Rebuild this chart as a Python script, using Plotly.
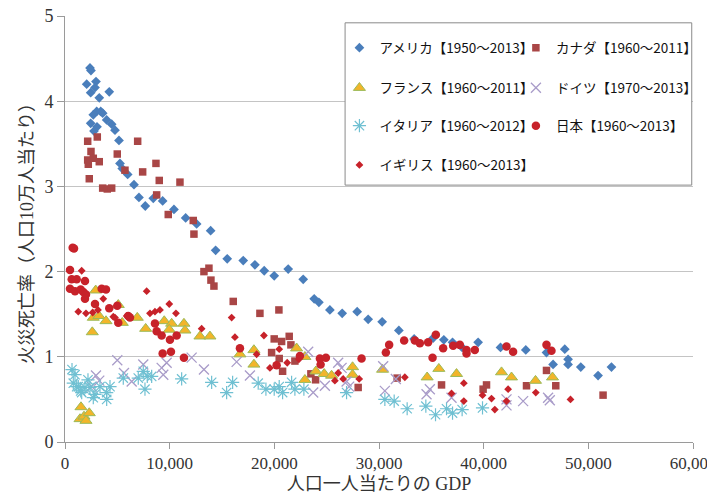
import plotly.graph_objects as go

# ---------------- data (GDP per capita, fire deaths per 100k) ----------------
us_x = [2388, 2480, 2072, 2960, 2454, 2865, 4230, 3275, 3027, 3410, 2703, 3600, 3982, 4460, 2454,
        4775, 2770, 3056, 5157, 5253, 5472, 5988, 6590, 7067, 7669, 8433, 9330, 10410, 11527, 12577,
        13914, 14392, 15500, 17028, 18145, 19033, 19988, 21325, 22758, 23808, 24257, 25308, 26482,
        27915, 28965, 30302, 31897, 33358, 35173, 36195, 37025, 37942, 39470, 41609, 44025, 46002,
        47750, 46633, 48065, 48065, 49278, 50930, 52210]
us_y = [4.39, 4.36, 4.20, 4.23, 4.10, 4.16, 4.11, 4.04, 3.88, 3.88, 3.84, 3.86, 3.78, 3.73, 3.74,
        3.66, 3.65, 3.70, 3.54, 3.27, 3.21, 3.14, 3.02, 2.87, 2.77, 2.86, 2.83, 2.73, 2.63, 2.56,
        2.48, 2.25, 2.15, 2.13, 2.08, 2.01, 1.95, 2.03, 1.91, 1.68, 1.64, 1.55, 1.51,
        1.53, 1.44, 1.41, 1.31, 1.21, 1.22, 1.20, 1.17, 1.11, 1.17, 1.11, 1.08, 1.05,
        1.09, 0.91, 0.97, 0.91, 0.88, 0.78, 0.88]

ca_x = [2168, 3085, 2483, 2168, 2703, 2225, 3275, 2320, 3600, 4040, 4460, 6943, 4995, 5730, 7420,
        8690, 9006, 10983, 8757, 9865, 12253, 12320, 13275, 13752, 13943, 14230, 16073, 18623, 20437,
        19988, 20695, 21421, 21583, 19740, 20466, 20790, 21965, 23493, 23942, 28010, 31735, 35975,
        39948, 40273, 44093, 46002, 46890, 51408]
ca_y = [3.53, 3.58, 3.41, 3.31, 3.33, 3.26, 3.29, 3.09, 2.98, 2.97, 2.98, 3.53, 3.38, 3.19, 3.17,
        3.27, 3.07, 3.05, 2.90, 2.67, 2.60, 2.44, 2.00, 2.04, 1.90, 1.83, 1.65, 1.51, 1.55,
        1.21, 1.18, 1.24, 1.14, 1.05, 0.98, 0.83, 0.95, 0.80, 0.73, 0.64, 0.75, 0.67,
        0.62, 0.67, 0.66, 0.84, 0.66, 0.55]

fr_x = [1528, 1433, 1815, 2320, 2005, 2932, 5090, 2703, 3247, 3916, 2607, 5472, 6905, 7707, 9483,
        10190, 9961, 11364, 11460, 12893, 13848, 16713, 18050, 18050, 22127, 22920, 22920, 23970,
        24763, 25470, 27475, 27475, 30340, 34600, 35717, 37407, 41705, 42660, 44952, 46575]
fr_y = [0.41, 0.27, 0.30, 0.34, 0.25, 1.78, 1.61, 1.46, 1.48, 1.42, 1.29, 1.40, 1.46, 1.33, 1.42,
        1.39, 1.32, 1.39, 1.31, 1.24, 1.24, 1.03, 1.08, 0.91, 1.10, 1.00, 0.73, 0.83,
        0.80, 0.78, 0.88, 0.79, 0.85, 0.76, 0.86, 0.80, 0.82, 0.76, 0.72, 0.76]

de_x = [2550, 2960, 3275, 4995, 5635, 6370, 7478, 9235, 9712, 9388, 12100, 13275, 16398, 17668,
        23235, 23713, 24830, 26100, 26425, 26902, 27150, 30398, 30560, 31610, 34542, 34857, 36930,
        42182, 42182, 43770, 46155, 46318]
de_y = [0.65, 0.78, 0.72, 0.96, 0.81, 0.71, 0.91, 0.87, 0.93, 0.79, 0.99, 0.85, 0.94, 0.78,
        1.06, 0.58, 0.66, 0.93, 0.87, 0.71, 0.65, 0.89, 0.60, 0.74, 0.56, 0.62, 0.52,
        0.50, 0.43, 0.48, 0.52, 0.49]

it_x = [670, 955, 793, 1270, 1117, 1500, 1595, 1910, 2196, 2388, 2865, 2703, 3343, 3982, 4298, 3982,
        5568, 7000, 7478, 7860, 7640, 8280, 11145, 14010, 15443, 16016, 18460, 19196, 19988, 20466,
        20790, 21650, 21965, 22825, 26902, 30560, 31450, 32690, 34475, 35400, 36452, 37025, 37942,
        39890]
it_y = [0.85, 0.79, 0.69, 0.65, 0.65, 0.60, 0.58, 0.64, 0.73, 0.64, 0.56, 0.52, 0.65, 0.58, 0.65, 0.50,
        0.75, 0.75, 0.83, 0.77, 0.62, 0.77, 0.74, 0.70, 0.58, 0.70, 0.69, 0.62, 0.62, 0.65,
        0.58, 0.70, 0.62, 0.62, 0.58, 0.50, 0.48, 0.39, 0.42, 0.32, 0.39, 0.34, 0.38,
        0.40]

jp_x = [735, 860, 478, 640, 1117, 1910, 478, 955, 1500, 1748, 2005, 1910, 2865, 3505, 3916, 4231,
        4995, 5090, 6045, 6208, 8595, 8757, 9235, 10028, 10668, 9330, 10123, 11364, 16713, 20218,
        22443, 24353, 24926, 24420, 28335, 30655, 30970, 32403, 33425, 33903, 34695, 35430, 36128,
        35117, 37083, 37723, 38362, 38362, 39155, 42182, 42812, 46002, 46480]
jp_y = [2.28, 2.27, 2.02, 1.91, 1.91, 1.89, 1.80, 1.77, 1.79, 1.76, 1.73, 1.68, 1.62, 1.80, 1.79, 1.57,
        1.60, 1.40, 1.48, 1.46, 1.39, 1.30, 1.25, 1.20, 1.25, 1.04, 1.06, 0.99, 1.10, 0.90,
        1.01, 0.98, 0.99, 0.91, 0.98, 1.05, 1.14, 1.19, 1.19, 1.16, 1.17, 1.26, 1.10,
        0.99, 1.13, 1.14, 1.08, 1.04, 1.08, 1.12, 1.06, 1.14, 1.07]

uk_x = [1595, 1270, 2005, 2645, 3150, 3658, 4613, 4775, 5892, 7802, 8118, 8595, 9073, 9961, 10600,
        13055, 15920, 16235, 18307, 19005, 19578, 20466, 21230, 22347, 26100, 25785, 26578, 28106,
        32470, 36930, 38105, 38105, 39890, 40750, 41065, 42335, 42182, 44980, 48295]
uk_y = [2.01, 1.53, 1.51, 1.52, 1.55, 1.68, 1.47, 1.46, 1.48, 1.77, 1.51, 1.53, 1.55, 1.62, 1.51,
        1.33, 1.46, 1.23, 1.03, 1.25, 0.87, 1.09, 0.93, 0.97, 0.81, 0.72, 0.74, 0.74,
        0.76, 0.57, 0.69, 0.48, 0.55, 0.51, 0.38, 0.62, 0.48, 0.58, 0.50]

names = ["アメリカ【1950～2013】", "カナダ【1960～2011】", "フランス【1960～2011】",
         "ドイツ【1970～2013】", "イタリア【1960～2012】", "日本【1960～2013】", "イギリス【1960～2013】"]
x_ticks = [0, 10000, 20000, 30000, 40000, 50000, 60000]
y_ticks = [0, 1, 2, 3, 4, 5]

SERIF = "Liberation Serif, Noto Sans CJK JP, serif"
SANS = "Noto Sans CJK JP, sans-serif"

series = [
    (us_x, us_y, dict(symbol="diamond", size=7.5, color="#4A7EBB")),
    (ca_x, ca_y, dict(symbol="square", size=7.5, color="#A94646")),
    (fr_x, fr_y, dict(symbol="triangle-up", size=10.5, color="#F2B52A", line=dict(color="#9BBB59", width=1))),
    (de_x, de_y, dict(symbol="x-thin-open", size=10, color="#A99CC9", line=dict(color="#A99CC9", width=1.3))),
    (it_x, it_y, dict(symbol="asterisk-open", size=11, color="#6FC0D2", line=dict(color="#6FC0D2", width=1.2))),
    (jp_x, jp_y, dict(symbol="circle", size=8.5, color="#C7222A")),
    (uk_x, uk_y, dict(symbol="diamond", size=6, color="#C7222A")),
]

fig = go.Figure()
for i, (xs, ys, mk) in enumerate(series):
    fig.add_trace(go.Scatter(x=xs, y=ys, mode="markers", name=names[i], marker=mk,
                             legend="legend" if i == 0 else f"legend{i+1}", cliponaxis=False))

# legend positions (paper coords) for two-column layout
col_x = [0.437, 0.718]
row_y = [0.925, 0.831, 0.742, 0.650]
legend_layout = {}
for i in range(7):
    key = "legend" if i == 0 else f"legend{i+1}"
    legend_layout[key] = dict(x=col_x[i % 2], y=row_y[i // 2], xanchor="left", yanchor="middle",
                              bgcolor="rgba(0,0,0,0)", borderwidth=0,
                              font=dict(family=SANS, size=13.5, color="#111"),
                              itemwidth=30)

# page body has an 8px default margin, so the figure is 8px smaller and margins compensate
fig.update_layout(
    width=707, height=490,
    margin=dict(l=57, r=22, t=8, b=56),
    plot_bgcolor="white", paper_bgcolor="white",
    showlegend=True,
    **legend_layout,
    shapes=[dict(type="rect", xref="paper", yref="paper", x0=0.446, x1=0.998, y0=0.603, y1=0.984,
                 line=dict(color="#8a8a8a", width=1), fillcolor="white", layer="above")],
    xaxis=dict(range=[0, 60000], tickvals=x_ticks, tickformat=",d", showgrid=False,
               showline=True, linecolor="#9a9a9a", linewidth=1, ticks="outside", ticklen=6,
               tickcolor="#9a9a9a", zeroline=False, automargin=False, ticklabeloverflow="allow",
               tickfont=dict(family=SERIF, size=17, color="#333"),
               title=dict(text="人口一人当たりの GDP", font=dict(family=SERIF, size=18, color="#333"), standoff=4)),
    yaxis=dict(range=[0, 5], tickvals=y_ticks, showgrid=True, gridcolor="#c4c4c4", gridwidth=1,
               showline=True, linecolor="#9a9a9a", linewidth=1, ticks="outside", ticklen=7,
               tickcolor="#9a9a9a", zeroline=False, automargin=False, ticklabeloverflow="allow",
               tickfont=dict(family=SERIF, size=18, color="#333"),
               title=dict(text="火災死亡率（人口10万人当たり）", font=dict(family=SERIF, size=18, color="#333"), standoff=6)),
)

fig.write_html("out.html")
